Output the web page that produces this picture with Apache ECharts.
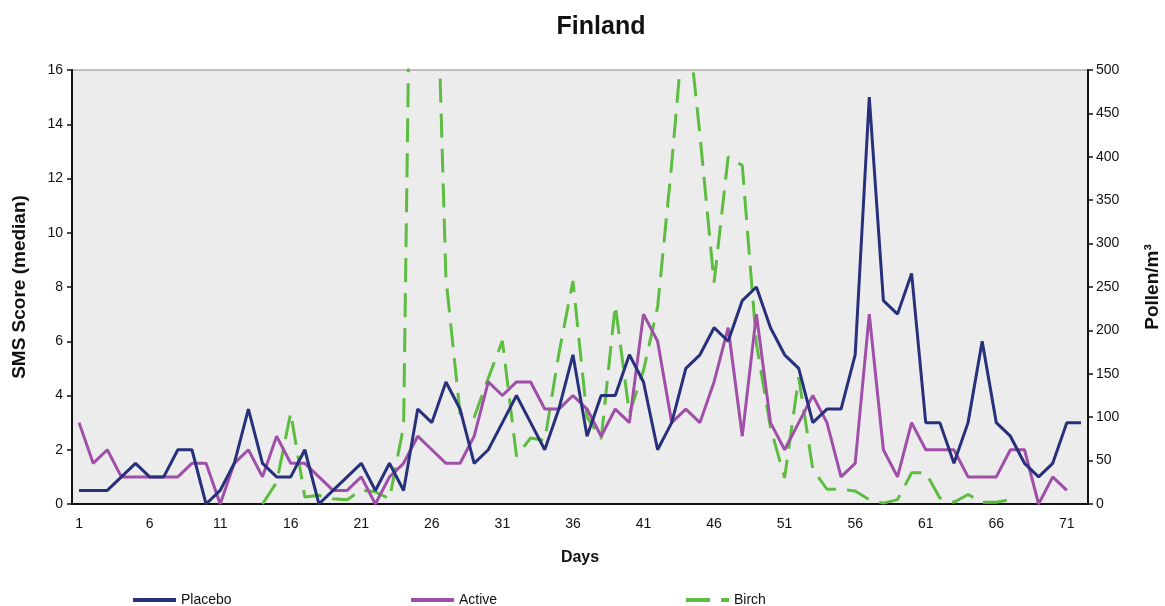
<!DOCTYPE html>
<html>
<head>
<meta charset="utf-8">
<title>Finland</title>
<script src="https://cdn.jsdelivr.net/npm/echarts@6/dist/echarts.min.js"></script>
<style>
  html, body { margin: 0; padding: 0; background: #ffffff; }
  #chart { width: 1165px; height: 606px; }
</style>
</head>
<body>
<div id="chart"></div>
<script>
// Study days 1..72
const days = Array.from({ length: 72 }, (_, i) => String(i + 1));

// Median SMS score, placebo group
const placebo = [
  0.5, 0.5, 0.5, 1, 1.5, 1, 1, 2, 2, 0,
  0.5, 1.5, 3.5, 1.5, 1, 1, 2, 0, 0.5, 1,
  1.5, 0.5, 1.5, 0.5, 3.5, 3, 4.5, 3.5, 1.5, 2,
  3, 4, 3, 2, 3.5, 5.5, 2.5, 4, 4, 5.5,
  4.5, 2, 3, 5, 5.5, 6.5, 6, 7.5, 8, 6.5,
  5.5, 5, 3, 3.5, 3.5, 5.5, 15, 7.5, 7, 8.5,
  3, 3, 1.5, 3, 6, 3, 2.5, 1.5, 1, 1.5,
  3, 3
];

// Median SMS score, active group
const active = [
  3, 1.5, 2, 1, 1, 1, 1, 1, 1.5, 1.5,
  0, 1.5, 2, 1, 2.5, 1.5, 1.5, 1, 0.5, 0.5,
  1, 0, 1, 1.5, 2.5, 2, 1.5, 1.5, 2.5, 4.5,
  4, 4.5, 4.5, 3.5, 3.5, 4, 3.5, 2.5, 3.5, 3,
  7, 6, 3, 3.5, 3, 4.5, 6.5, 2.5, 7, 3,
  2, 3, 4, 3, 1, 1.5, 7, 2, 1, 3,
  2, 2, 2, 1, 1, 1, 2, 2, 0, 1,
  0.5, null
];

// Birch pollen count (grains/m3), days 1..72
const birch = [
  null, null, null, null, null, null, null, null, null, null,
  null, null, null, 0, 25, 105, 8, 10, 6, 5,
  16, 14, 6, 90, 1300, 820, 260, 104, 100, 145,
  188, 55, 76, 73, 173, 257, 100, 75, 229, 104,
  154, 227, 392, 580, 425, 255, 400, 390, 185, 88,
  30, 146, 40, 17, 17, 15, 5, 1, 5, 36,
  36, 7, 2, 11, 2, 2, 5, null, null, null,
  null, null
];

const leftTicks = { min: 0, max: 16, interval: 2 };
const rightTicks = { min: 0, max: 500, interval: 50 };

const FONT = '"Liberation Sans", Arial, sans-serif';
const COLORS = { placebo: '#27307a', active: '#a04fa8', birch: '#5dbd40' };

const chart = echarts.init(document.getElementById('chart'), null, { renderer: 'canvas' });

const legendText = { fontFamily: FONT, fontSize: 14, color: '#111' };
// One legend block per series so each entry sits at its own position
function legendAt(name, left) {
  return {
    data: [name], left: left, top: 588, itemWidth: 43, itemHeight: 12,
    itemGap: 4, textStyle: legendText, selectedMode: false,
    itemStyle: { opacity: 0 },
    lineStyle: { width: 4 }
  };
}

chart.setOption({
  animation: false,
  backgroundColor: '#ffffff',
  title: {
    text: 'Finland', left: 596, top: 10, textAlign: 'center',
    textStyle: { fontFamily: FONT, fontSize: 25, fontWeight: 'bold', color: '#111' }
  },
  legend: [
    legendAt('Placebo', 126),
    legendAt('Active', 404),
    legendAt('Birch', 679)
  ],
  grid: {
    left: 72, right: 77, top: 70, bottom: 102,
    outerBoundsMode: 'none', containLabel: false,
    show: true, backgroundColor: '#ececec', borderColor: '#8a8a8a', borderWidth: 1
  },
  xAxis: {
    type: 'category', data: days, boundaryGap: true,
    name: 'Days', nameLocation: 'middle', nameGap: 46,
    nameTextStyle: { fontFamily: FONT, fontSize: 16, fontWeight: 'bold', color: '#111' },
    axisLine: { lineStyle: { color: '#111', width: 2 } },
    axisTick: { interval: 0, length: 5, lineStyle: { color: '#111', width: 1.5 } },
    axisLabel: { interval: 4, fontFamily: FONT, fontSize: 14, color: '#111', margin: 13 },
    splitLine: { show: false }
  },
  yAxis: [
    {
      type: 'value', position: 'left', min: leftTicks.min, max: leftTicks.max, interval: leftTicks.interval,
      name: 'SMS Score (median)', nameLocation: 'middle', nameRotate: 90, nameGap: 43,
      nameTextStyle: { fontFamily: FONT, fontSize: 19, fontWeight: 'bold', color: '#111' },
      axisLine: { show: true, lineStyle: { color: '#111', width: 2 } },
      axisTick: { show: true, length: 5, lineStyle: { color: '#111', width: 1.5 } },
      axisLabel: { fontFamily: FONT, fontSize: 14, color: '#111', margin: 9 },
      splitLine: { show: false }
    },
    {
      type: 'value', position: 'right', min: rightTicks.min, max: rightTicks.max, interval: rightTicks.interval,
      name: 'Pollen/m³', nameLocation: 'middle', nameRotate: 90, nameGap: 55,
      nameTextStyle: { fontFamily: FONT, fontSize: 19, fontWeight: 'bold', color: '#111' },
      axisLine: { show: true, lineStyle: { color: '#111', width: 2 } },
      axisTick: { show: true, length: 5, lineStyle: { color: '#111', width: 1.5 } },
      axisLabel: { fontFamily: FONT, fontSize: 14, color: '#111', margin: 8 },
      splitLine: { show: false }
    }
  ],
  series: [
    {
      name: 'Placebo', type: 'line', yAxisIndex: 0, data: placebo,
      symbol: 'none', color: COLORS.placebo,
      lineStyle: { color: COLORS.placebo, width: 3 }, z: 4
    },
    {
      name: 'Active', type: 'line', yAxisIndex: 0, data: active,
      symbol: 'none', color: COLORS.active,
      lineStyle: { color: COLORS.active, width: 3 }, z: 3
    },
    {
      name: 'Birch', type: 'line', yAxisIndex: 1, data: birch,
      symbol: 'none', color: COLORS.birch, clip: true,
      lineStyle: { color: COLORS.birch, width: 3, type: [24, 11] }, z: 2
    }
  ]
});
</script>
</body>
</html>
